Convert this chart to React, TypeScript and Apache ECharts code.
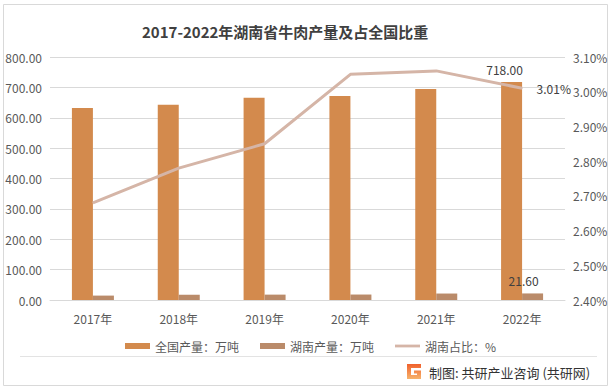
import React, { useEffect, useRef } from "react";
import * as echarts from "echarts";

const categories = ["2017年", "2018年", "2019年", "2020年", "2021年", "2022年"];
const nationalOutput = [632, 643, 666, 672, 695, 718];
const hunanOutput = [14.5, 17.3, 17.7, 18.0, 21.3, 21.6];
const hunanShare = [2.68, 2.78, 2.85, 3.05, 3.06, 3.01];
const seriesNames = ["全国产量：万吨", "湖南产量：万吨", "湖南占比：%"];
const leftAxisTicks = [0, 800, 100];
const rightAxisTicks = [2.4, 3.1, 0.1];
const titleText = "2017-2022年湖南省牛肉产量及占全国比重";
const footerText = "制图: 共研产业咨询 (共研网)";

const FONT = "'Noto Sans CJK SC', 'Noto Sans', sans-serif";
const LINE_COLOR = "#D5B5A7";

echarts.graphic.registerShape(
  "logo",
  echarts.graphic.extendPath(
    "M0 0 H14 V4 H4 V11 H10 V9.5 H7 V6.5 H14 V15 H0 Z",
    {}
  )
);

export default function App() {
  const ref = useRef<HTMLDivElement>(null);

  useEffect(() => {
    document.body.style.margin = "0";
    if (!ref.current) return;
    const chart = echarts.init(ref.current, undefined, { renderer: "svg" });
    const lastIdx = categories.length - 1;

    chart.setOption({
      animation: false,
      backgroundColor: "#ffffff",
      textStyle: { fontFamily: FONT },
      title: {
        text: titleText,
        left: 137,
        top: 19,
        textStyle: {
          fontFamily: FONT,
          fontSize: 15,
          fontWeight: "bold",
          color: "#404040",
        },
      },
      grid: { left: 50, right: 50, top: 57, bottom: 90, containLabel: false },
      legend: {
        data: [
          { name: seriesNames[0], icon: "rect" },
          { name: seriesNames[1], icon: "rect" },
          { name: seriesNames[2], icon: "path://M0,0L27,0L27,3L0,3Z" },
        ],
        left: 120,
        top: 335,
        itemWidth: 25,
        itemHeight: 6,
        itemGap: 21,
        textStyle: { fontFamily: FONT, fontSize: 12, color: "#595959" },
      },
      xAxis: {
        type: "category",
        data: categories,
        axisLine: { lineStyle: { color: "#D9D9D9" } },
        axisTick: { show: false },
        axisLabel: { color: "#595959", fontSize: 12, margin: 12, fontFamily: FONT },
      },
      yAxis: [
        {
          type: "value",
          min: leftAxisTicks[0],
          max: leftAxisTicks[1],
          interval: leftAxisTicks[2],
          axisLine: { show: false },
          axisTick: { show: false },
          splitLine: { lineStyle: { color: "#D9D9D9" } },
          axisLabel: {
            color: "#595959",
            fontSize: 12,
            margin: 8,
            fontFamily: FONT,
            formatter: (v: number) => v.toFixed(2),
          },
        },
        {
          type: "value",
          min: rightAxisTicks[0],
          max: rightAxisTicks[1],
          interval: rightAxisTicks[2],
          axisLine: { show: false },
          axisTick: { show: false },
          splitLine: { show: false },
          axisLabel: {
            color: "#595959",
            fontSize: 12,
            margin: 8,
            fontFamily: FONT,
            formatter: (v: number) => v.toFixed(2) + "%",
          },
        },
      ],
      series: [
        {
          name: seriesNames[0],
          type: "bar",
          barWidth: 21,
          barGap: "0%",
          itemStyle: { color: "#D38A4D" },
          data: nationalOutput.map((v, i) =>
            i === lastIdx
              ? {
                  value: v,
                  label: {
                    show: true,
                    position: "top",
                    distance: 6,
                    offset: [-7, 0],
                    color: "#404040",
                    fontSize: 12,
                    fontFamily: FONT,
                    formatter: (p: any) => Number(p.value).toFixed(2),
                  },
                }
              : v
          ),
        },
        {
          name: seriesNames[1],
          type: "bar",
          barWidth: 21,
          barGap: "0%",
          itemStyle: { color: "#BA8B6A" },
          data: hunanOutput.map((v, i) =>
            i === lastIdx
              ? {
                  value: v,
                  label: {
                    show: true,
                    position: "top",
                    distance: 7,
                    offset: [-9, 0],
                    color: "#404040",
                    fontSize: 12,
                    fontFamily: FONT,
                    formatter: (p: any) => Number(p.value).toFixed(2),
                  },
                }
              : v
          ),
        },
        {
          name: seriesNames[2],
          type: "line",
          yAxisIndex: 1,
          symbol: "circle",
          symbolSize: 1,
          showSymbol: true,
          z: 5,
          lineStyle: { color: LINE_COLOR, width: 3 },
          itemStyle: { color: LINE_COLOR },
          label: { show: false },
          data: hunanShare.map((v, i) =>
            i === lastIdx
              ? {
                  value: v,
                  label: {
                    show: true,
                    position: "right",
                    distance: 14,
                    color: "#404040",
                    fontSize: 12,
                    fontFamily: FONT,
                    formatter: (p: any) => Number(p.value).toFixed(2) + "%",
                  },
                }
              : v
          ),
        },
      ],
      graphic: [
        {
          type: "rect",
          silent: true,
          z: -10,
          shape: { x: 3.5, y: 4.5, width: 604, height: 381 },
          style: { fill: "none", stroke: "#D9D9D9", lineWidth: 1 },
        },
        {
          type: "line",
          silent: true,
          shape: { x1: 20, y1: 356.5, x2: 597, y2: 356.5 },
          style: { stroke: "#E3E3E3", lineWidth: 1 },
        },
        {
          type: "logo",
          x: 407,
          y: 364,
          scaleX: 1,
          scaleY: 1,
          style: {
            fill: new echarts.graphic.LinearGradient(0, 0, 0, 1, [
              { offset: 0, color: "#F0612D" },
              { offset: 1, color: "#F7B36C" },
            ]),
          },
        },
        {
          type: "text",
          x: 429,
          y: 372,
          style: {
            text: footerText,
            fontSize: 13,
            fontFamily: FONT,
            fill: "#333333",
            verticalAlign: "middle",
          },
        },
      ],
    });

    return () => chart.dispose();
  }, []);

  return <div ref={ref} style={{ width: 615, height: 390 }} />;
}
